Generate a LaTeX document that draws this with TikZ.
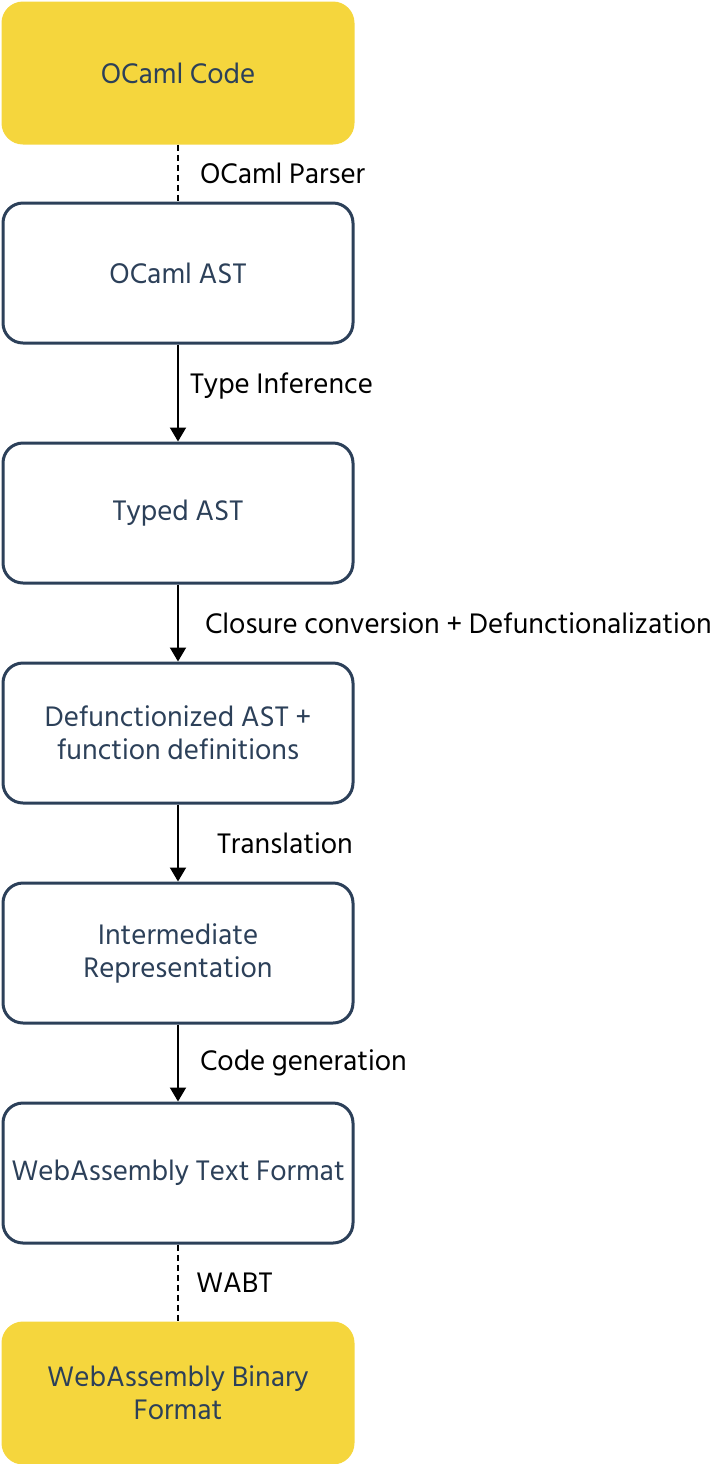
\documentclass[tikz,border=0pt]{standalone}
\usepackage{fontspec, xcolor}
\setmainfont{Hind Siliguri}
\usetikzlibrary{arrows.meta}
\definecolor{camlyellow}{HTML}{F5D63D}
\definecolor{stageblue}{HTML}{2C4059}

\begin{document}
\begin{tikzpicture}[x=0.5pt, y=-0.5pt,
    stage/.style={rectangle, rounded corners=10pt, line width=1.5pt, draw=stageblue, fill=white, text=stageblue,
        minimum width=175pt, minimum height=70pt, align=center, font=\fontsize{14.5}{16.5}\selectfont},
    source/.style={stage, draw=camlyellow, fill=camlyellow},
    pass/.style={line width=1pt, -{Triangle[width=8pt, length=7pt]}},
    tool/.style={line width=1pt, dash pattern=on 3pt off 2pt},
    what/.style={midway, right, inner sep=0pt, font=\fontsize{14.5}{16}\selectfont}]
    \useasboundingbox (0,0) rectangle (722,1464);
    \node [source] (code) at (178,73) {OCaml Code};
    \node [stage] (ast) at (178,273) {OCaml AST};
    \node [stage] (typed) at (178,513) {Typed AST};
    \node [stage] (defun) at (178,733) {Defunctionized AST +\\function definitions};
    \node [stage] (ir) at (178,953) {Intermediate\\Representation};
    \node [stage] (wat) at (178,1173) {WebAssembly Text Format};
    \node [source] (wasm) at (178,1393) {WebAssembly Binary\\Format};
    \draw [tool] (code) -- (ast) node (parser) [what, xshift=10.5pt] {OCaml Parser};
    \draw [pass] (ast) -- (typed) node (infer) [what, xshift=5.5pt, yshift=3.5pt] {Type Inference};
    \draw [pass] (typed) -- (defun) node (closure) [what, xshift=13pt] {Closure conversion + Defunctionalization};
    \draw [pass] (defun) -- (ir) node (translate) [what, xshift=19pt] {Translation};
    \draw [pass] (ir) -- (wat) node (codegen) [what, xshift=10.5pt] {Code generation};
    \draw [tool] (wat) -- (wasm) node (wabt) [what, xshift=8.5pt] {WABT};
\end{tikzpicture}
\end{document}
